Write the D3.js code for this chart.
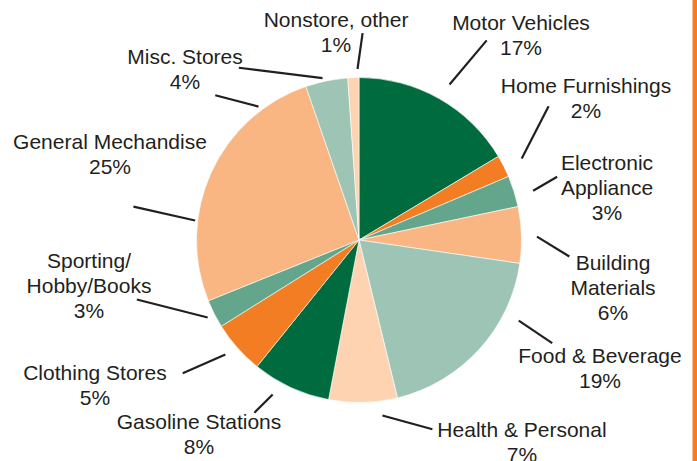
<!DOCTYPE html>
<meta charset="utf-8">
<script src="https://d3js.org/d3.v7.min.js"></script>
<style>
  body { margin: 0; background: #fff; }
  #my_dataviz text { font-family: "Liberation Sans", Arial, sans-serif; font-size: 21px; fill: #231f20; }
</style>
<body>
<div id="my_dataviz"></div>
<script>
// retail sales share by store type, clockwise from 12 o'clock
var categories = ["Motor Vehicles", "Home Furnishings", "Electronic\nAppliance", "Building\nMaterials",
  "Food & Beverage", "Health & Personal", "Gasoline Stations", "Clothing Stores",
  "Sporting/\nHobby/Books", "General Mechandise", "Misc. Stores", "Nonstore, other"];
var shares = [16.4, 2.2, 3.1, 5.6, 18.9, 6.8, 7.8, 5.3, 2.8, 25.8, 4.2, 1.1];
// percentages printed in the labels
var pctLabels = [17, 2, 3, 6, 19, 7, 8, 5, 3, 25, 4, 1];
var sliceColors = ["#006b3f", "#f37d23", "#63a68b", "#f9b682", "#9dc4b4", "#fdd3b1",
  "#006b3f", "#f37d23", "#63a68b", "#f9b682", "#9dc4b4", "#fdd3b1"];

// label anchor (centre x, first baseline) for each category
var labelPos = [[521, 30], [586, 93], [607, 170], [613, 270], [600, 363], [522, 437],
  [199, 429], [95, 380], [89, 268], [110, 149], [185, 64], [336, 27]];

// leader lines: [inner angle deg, inner radius, outer angle deg, outer radius]
var leaderLines = [[30.2, 180, 32.6, 237], [63.4, 182, 54.8, 232], [74.2, 181, 72.3, 208],
  [88.9, 178, 94.5, 211], [116.8, 179, 118.1, 219], [172.4, 177, 158.8, 203],
  [209.2, 177, 211.2, 202], [229.4, 176, 232.9, 221], [242.9, 170, 255, 230],
  [276.8, 165, 278.4, 228], [323, 167, 315.2, 204], [347.3, 166, 325.1, 210],
  [-0.5, 171, 1.0, 207]];

var width = 697, height = 461;
var cx = 359, cy = 240, radius = 162.5;

var svg = d3.select("#my_dataviz")
  .append("svg")
    .attr("width", width)
    .attr("height", height);

// orange strip on the right edge
svg.append("rect")
  .attr("x", 692.5).attr("y", 0)
  .attr("width", 4.5).attr("height", height)
  .attr("fill", "#f37d23");

var pie = d3.pie().sort(null).value(function(d) { return d; });
var arc = d3.arc().innerRadius(0).outerRadius(radius);

var g = svg.append("g")
  .attr("transform", "translate(" + cx + "," + cy + ")");

g.selectAll("path")
  .data(pie(shares))
  .enter()
  .append("path")
    .attr("d", arc)
    .attr("fill", function(d, i) { return sliceColors[i]; })
    .attr("stroke", "#ffffff")
    .attr("stroke-width", 0.6);

function polar(a, r) {
  var t = a * Math.PI / 180;
  return [r * Math.sin(t), -r * Math.cos(t)];
}

g.selectAll("line.leader")
  .data(leaderLines)
  .enter()
  .append("line")
    .attr("class", "leader")
    .attr("x1", function(d) { return polar(d[0], d[1])[0]; })
    .attr("y1", function(d) { return polar(d[0], d[1])[1]; })
    .attr("x2", function(d) { return polar(d[2], d[3])[0]; })
    .attr("y2", function(d) { return polar(d[2], d[3])[1]; })
    .attr("stroke", "#231f20")
    .attr("stroke-width", 2.2);

var labels = svg.selectAll("text.lbl")
  .data(categories)
  .enter()
  .append("text")
    .attr("class", "lbl")
    .attr("text-anchor", "middle")
    .attr("x", function(d, i) { return labelPos[i][0]; })
    .attr("y", function(d, i) { return labelPos[i][1]; });

labels.each(function(d, i) {
  var lines = d.split("\n").concat([pctLabels[i] + "%"]);
  var t = d3.select(this);
  lines.forEach(function(s, k) {
    t.append("tspan")
      .attr("x", labelPos[i][0])
      .attr("dy", k === 0 ? 0 : 25)
      .text(s);
  });
});
</script>
</body>
